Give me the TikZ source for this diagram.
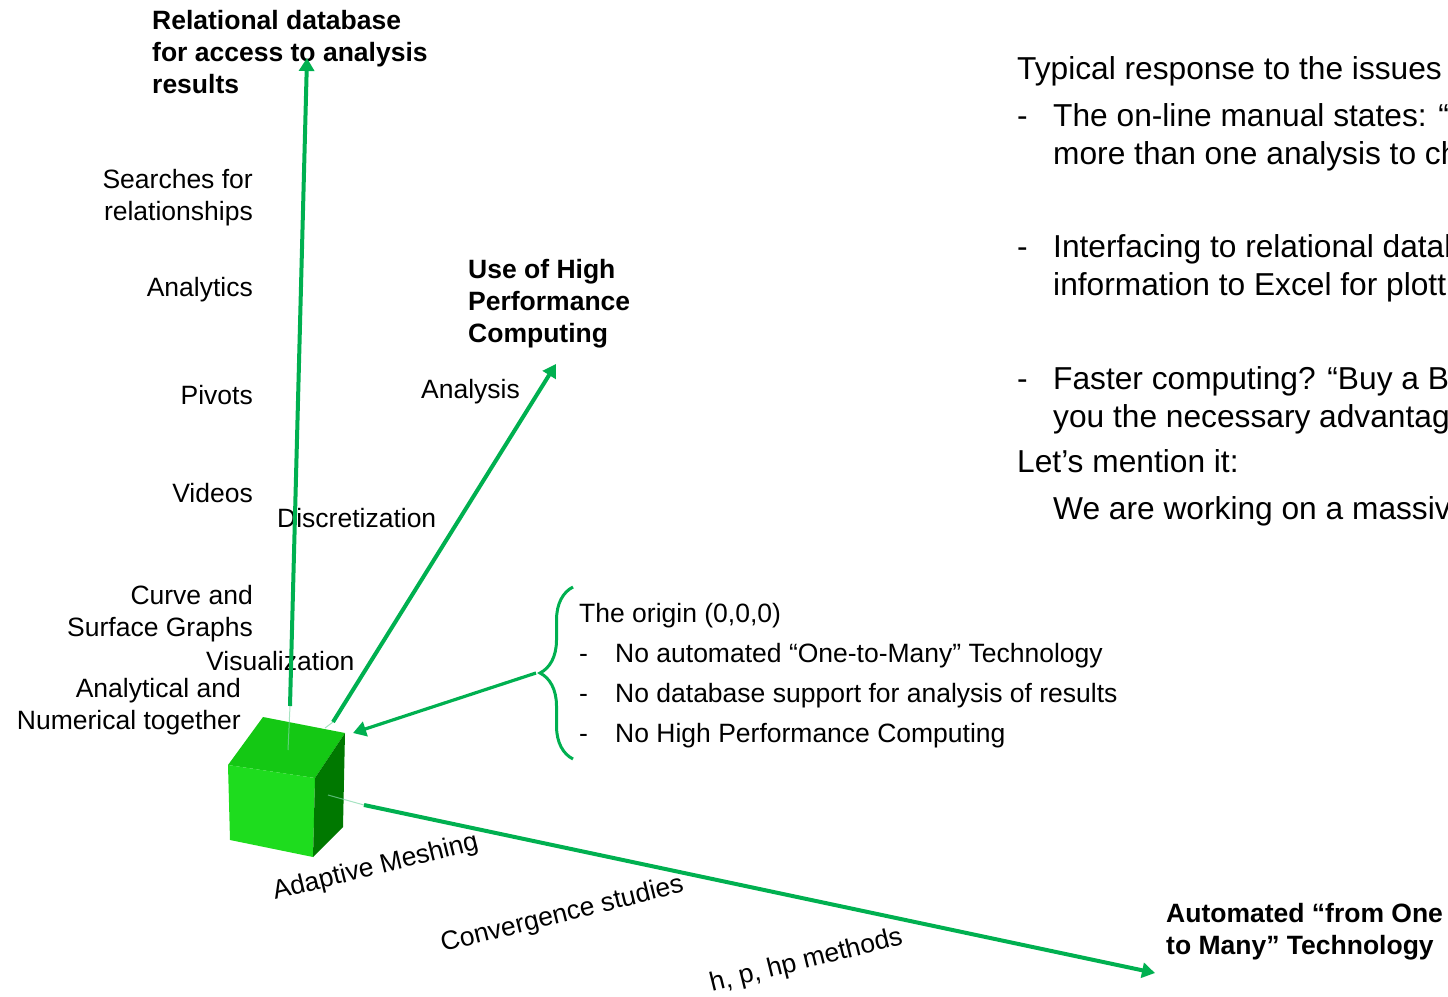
\documentclass[tikz,border=0pt]{standalone}
\usepackage{fontspec}
\setmainfont{Liberation Sans}
\usetikzlibrary{arrows.meta,decorations.pathreplacing}
\definecolor{axisgreen}{HTML}{00B050}
\definecolor{cubefront}{HTML}{1EDC1E}
\definecolor{cubetop}{HTML}{14C814}
\definecolor{cubeside}{HTML}{007800}

\tikzset{
  lbl/.style={font=\fontsize{26.5}{32}\selectfont, inner sep=0pt},
  ttl/.style={font=\fontsize{26.5}{32}\selectfont\bfseries, inner sep=0pt, align=left, anchor=base west},
  listing/.style={font=\fontsize{26.5}{40}\selectfont, inner sep=0pt, align=left, anchor=base west},
  note/.style={font=\fontsize{31.7}{38}\selectfont, inner sep=0pt, align=left, anchor=base west},
  axis/.style={axisgreen, line width=4pt, -{Triangle[length=13pt,width=15pt]}},
  pointer/.style={axisgreen, line width=3.2pt, -{Triangle[length=13pt,width=15pt]}},
  hidden/.style={white!50!axisgreen, line width=1pt, opacity=0.7},
}

\begin{document}
\begin{tikzpicture}[x=1pt,y=-1pt]
  \clip (0,0) rectangle (1448,996);

  % the cube at the origin
  \coordinate (c1) at (263,717);
  \coordinate (c2) at (345,733);
  \coordinate (c3) at (315,778);
  \coordinate (c4) at (228,765);
  \coordinate (c5) at (313,857);
  \coordinate (c6) at (230,840);
  \coordinate (c7) at (343,827);
  \fill[cubetop] (c1) -- (c2) -- (c3) -- (c4) -- cycle;
  \fill[cubefront] (c4) -- (c3) -- (c5) -- (c6) -- cycle;
  \fill[cubeside] (c3) -- (c2) -- (c7) -- (c5) -- cycle;

  % axis ends
  \coordinate (zbase) at (290,706);
  \coordinate (ztip) at (307,58);
  \coordinate (ybase) at (333,722);
  \coordinate (ytip) at (556,364);
  \coordinate (xbase) at (364,805);
  \coordinate (xtip) at (1155,973);
  \coordinate (zin) at (288,750);
  \coordinate (yin) at (325,728);
  \coordinate (xin) at (328,795);

  % labels up the vertical axis (base = last line)
  \node[lbl, anchor=base east, align=right] (searches) at (253,220) {Searches for\\relationships};
  \node[lbl, anchor=base east] (analytics) at (253,296) {Analytics};
  \node[lbl, anchor=base east] (pivots) at (253,404) {Pivots};
  \node[lbl, anchor=base east] (videos) at (253,502) {Videos};
  \node[lbl, anchor=base east, align=right] (curves) at (253,636) {Curve and\\Surface Graphs};
  \node[lbl, anchor=base east, align=right] (together) at (241,729) {Analytical and\\Numerical together};
  \node[lbl, anchor=base west] (visual) at (206,670) {Visualization};
  \node[lbl, anchor=base west] (discret) at (277,527) {Discretization};
  \node[lbl, anchor=base west] (analysis) at (421,398) {Analysis};

  % axis titles
  \node[ttl] (reldb) at (152,93) {Relational database\\for access to analysis\\results};
  \node[ttl] (hpc) at (468,342) {Use of High\\Performance\\Computing};
  \node[ttl] (onemany) at (1166,954) {Automated “from One\\to Many” Technology};

  % labels along the horizontal axis
  \node[lbl, anchor=base west, rotate=14] (meshing) at (275,900) {Adaptive Meshing};
  \node[lbl, anchor=base west, rotate=14] (converge) at (443,952) {Convergence studies};
  \node[lbl, anchor=base west, rotate=14] (hpmeth) at (712,992) {h, p, hp methods};

  % the origin and its shortcomings
  \coordinate (bracebot) at (573,759);
  \coordinate (bracetop) at (573,587);
  \coordinate (bracetip) at (536,673);
  \coordinate (cubetip) at (353,733);
  \draw[axisgreen, line width=3pt, decorate, decoration={brace, amplitude=33pt}] (bracebot) -- (bracetop);
  \node[listing] (origin) at (579,742) {The origin (0,0,0)\\
    \makebox[36pt][l]{-}No automated “One-to-Many” Technology\\
    \makebox[36pt][l]{-}No database support for analysis of results\\
    \makebox[36pt][l]{-}No High Performance Computing};

  % text block on the right
  \node[note] (typical) at (1017,79) {Typical response to the issues};
  \node[note] (manual) at (1017,164) {\makebox[36pt][l]{-}The on-line manual states: “\\\hspace*{36pt}more than one analysis to ch};
  \node[note] (interface) at (1017,295) {\makebox[36pt][l]{-}Interfacing to relational datab\\\hspace*{36pt}information to Excel for plott};
  \node[note] (faster) at (1017,427) {\makebox[36pt][l]{-}Faster computing? “Buy a B\\\hspace*{36pt}you the necessary advantag};
  \node[note] (mention) at (1017,472) {Let’s mention it:};
  \node[note] (massive) at (1053,519) {We are working on a massiv};

  % axes
  \draw[hidden] (zbase) -- (zin);
  \draw[hidden] (ybase) -- (yin);
  \draw[hidden] (xbase) -- (xin);
  \draw[axis] (zbase) -- (ztip);
  \draw[axis] (ybase) -- (ytip);
  \draw[axis] (xbase) -- (xtip);
  \draw[pointer] (bracetip) -- (cubetip);
\end{tikzpicture}
\end{document}
